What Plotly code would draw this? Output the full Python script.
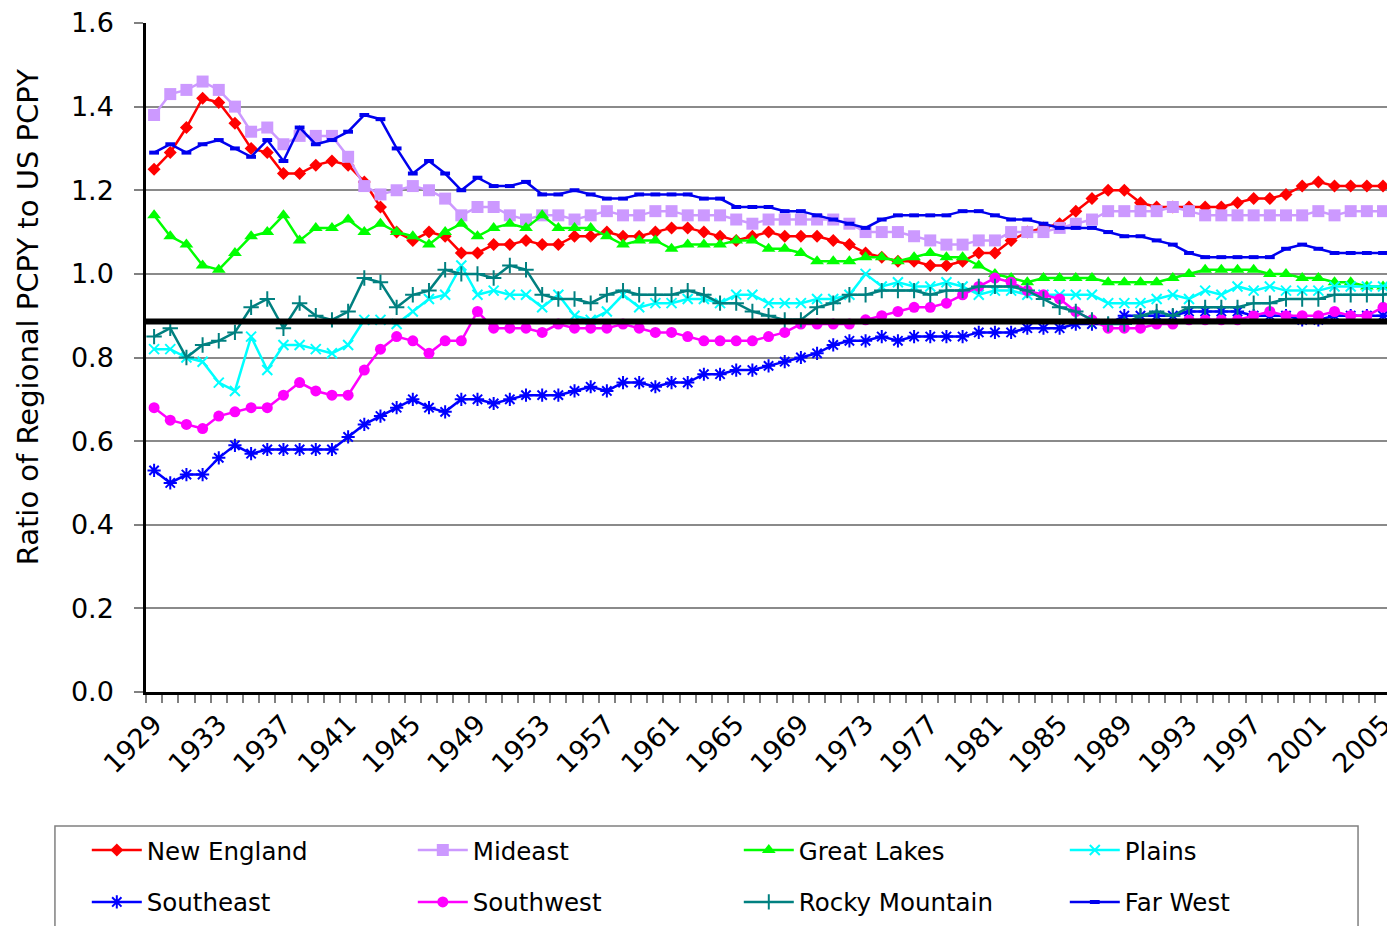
import plotly.graph_objects as go

years = list(range(1929, 2007))

new_england = [1.25, 1.29, 1.35, 1.42, 1.41, 1.36, 1.30, 1.29, 1.24, 1.24, 1.26, 1.27, 1.26, 1.22, 1.16, 1.10, 1.08, 1.10, 1.09, 1.05,
               1.05, 1.07, 1.07, 1.08, 1.07, 1.07, 1.09, 1.09, 1.10, 1.09, 1.09, 1.10, 1.11, 1.11, 1.10, 1.09, 1.08, 1.09, 1.10, 1.09,
               1.09, 1.09, 1.08, 1.07, 1.05, 1.04, 1.03, 1.03, 1.02, 1.02, 1.03, 1.05, 1.05, 1.08, 1.10, 1.11, 1.12, 1.15, 1.18, 1.20,
               1.20, 1.17, 1.16, 1.16, 1.16, 1.16, 1.16, 1.17, 1.18, 1.18, 1.19, 1.21, 1.22, 1.21, 1.21, 1.21, 1.21, 1.21]
mideast = [1.38, 1.43, 1.44, 1.46, 1.44, 1.40, 1.34, 1.35, 1.31, 1.33, 1.33, 1.33, 1.28, 1.21, 1.19, 1.20, 1.21, 1.20, 1.18, 1.14,
           1.16, 1.16, 1.14, 1.13, 1.14, 1.14, 1.13, 1.14, 1.15, 1.14, 1.14, 1.15, 1.15, 1.14, 1.14, 1.14, 1.13, 1.12, 1.13, 1.13,
           1.13, 1.13, 1.13, 1.12, 1.10, 1.10, 1.10, 1.09, 1.08, 1.07, 1.07, 1.08, 1.08, 1.10, 1.10, 1.10, 1.11, 1.12, 1.13, 1.15,
           1.15, 1.15, 1.15, 1.16, 1.15, 1.14, 1.14, 1.14, 1.14, 1.14, 1.14, 1.14, 1.15, 1.14, 1.15, 1.15, 1.15, 1.16]
great_lakes = [1.14, 1.09, 1.07, 1.02, 1.01, 1.05, 1.09, 1.10, 1.14, 1.08, 1.11, 1.11, 1.13, 1.10, 1.12, 1.10, 1.09, 1.07, 1.10, 1.12,
               1.09, 1.11, 1.12, 1.11, 1.14, 1.11, 1.11, 1.11, 1.09, 1.07, 1.08, 1.08, 1.06, 1.07, 1.07, 1.07, 1.08, 1.08, 1.06, 1.06,
               1.05, 1.03, 1.03, 1.03, 1.04, 1.04, 1.03, 1.04, 1.05, 1.04, 1.04, 1.02, 1.00, 0.99, 0.98, 0.99, 0.99, 0.99, 0.99, 0.98,
               0.98, 0.98, 0.98, 0.99, 1.00, 1.01, 1.01, 1.01, 1.01, 1.00, 1.00, 0.99, 0.99, 0.98, 0.98, 0.97, 0.97, 0.96]
plains = [0.82, 0.82, 0.80, 0.79, 0.74, 0.72, 0.85, 0.77, 0.83, 0.83, 0.82, 0.81, 0.83, 0.89, 0.89, 0.88, 0.91, 0.94, 0.95, 1.02,
          0.95, 0.96, 0.95, 0.95, 0.92, 0.95, 0.90, 0.89, 0.91, 0.95, 0.92, 0.93, 0.93, 0.94, 0.94, 0.93, 0.95, 0.95, 0.93, 0.93,
          0.93, 0.94, 0.94, 0.95, 1.00, 0.97, 0.98, 0.97, 0.97, 0.98, 0.97, 0.95, 0.96, 0.96, 0.95, 0.95, 0.95, 0.95, 0.95, 0.93,
          0.93, 0.93, 0.94, 0.95, 0.94, 0.96, 0.95, 0.97, 0.96, 0.97, 0.96, 0.96, 0.96, 0.97, 0.97, 0.97, 0.97, 0.98]
southeast = [0.53, 0.50, 0.52, 0.52, 0.56, 0.59, 0.57, 0.58, 0.58, 0.58, 0.58, 0.58, 0.61, 0.64, 0.66, 0.68, 0.70, 0.68, 0.67, 0.70,
             0.70, 0.69, 0.70, 0.71, 0.71, 0.71, 0.72, 0.73, 0.72, 0.74, 0.74, 0.73, 0.74, 0.74, 0.76, 0.76, 0.77, 0.77, 0.78, 0.79,
             0.80, 0.81, 0.83, 0.84, 0.84, 0.85, 0.84, 0.85, 0.85, 0.85, 0.85, 0.86, 0.86, 0.86, 0.87, 0.87, 0.87, 0.88, 0.88, 0.88,
             0.90, 0.90, 0.90, 0.90, 0.91, 0.91, 0.91, 0.91, 0.90, 0.90, 0.90, 0.89, 0.89, 0.90, 0.90, 0.90, 0.90, 0.90]
southwest = [0.68, 0.65, 0.64, 0.63, 0.66, 0.67, 0.68, 0.68, 0.71, 0.74, 0.72, 0.71, 0.71, 0.77, 0.82, 0.85, 0.84, 0.81, 0.84, 0.84,
             0.91, 0.87, 0.87, 0.87, 0.86, 0.88, 0.87, 0.87, 0.87, 0.88, 0.87, 0.86, 0.86, 0.85, 0.84, 0.84, 0.84, 0.84, 0.85, 0.86,
             0.88, 0.88, 0.88, 0.88, 0.89, 0.90, 0.91, 0.92, 0.92, 0.93, 0.95, 0.97, 0.99, 0.98, 0.96, 0.95, 0.94, 0.91, 0.89, 0.87,
             0.87, 0.87, 0.88, 0.88, 0.89, 0.89, 0.89, 0.89, 0.90, 0.91, 0.90, 0.90, 0.90, 0.91, 0.90, 0.90, 0.92, 0.92]
rocky_mountain = [0.85, 0.87, 0.80, 0.83, 0.84, 0.86, 0.92, 0.94, 0.87, 0.93, 0.90, 0.89, 0.91, 0.99, 0.98, 0.92, 0.95, 0.96, 1.01, 1.00,
                  1.00, 0.99, 1.02, 1.01, 0.95, 0.94, 0.94, 0.93, 0.95, 0.96, 0.95, 0.95, 0.95, 0.96, 0.95, 0.93, 0.93, 0.91, 0.90, 0.89,
                  0.89, 0.92, 0.93, 0.95, 0.95, 0.96, 0.96, 0.96, 0.95, 0.96, 0.96, 0.97, 0.97, 0.97, 0.96, 0.94, 0.92, 0.91, 0.89, 0.88,
                  0.88, 0.90, 0.91, 0.90, 0.92, 0.92, 0.92, 0.92, 0.93, 0.93, 0.94, 0.94, 0.94, 0.95, 0.95, 0.95, 0.95, 0.96]
far_west = [1.29, 1.31, 1.29, 1.31, 1.32, 1.30, 1.28, 1.32, 1.27, 1.35, 1.31, 1.32, 1.34, 1.38, 1.37, 1.30, 1.24, 1.27, 1.24, 1.20,
            1.23, 1.21, 1.21, 1.22, 1.19, 1.19, 1.20, 1.19, 1.18, 1.18, 1.19, 1.19, 1.19, 1.19, 1.18, 1.18, 1.16, 1.16, 1.16, 1.15,
            1.15, 1.14, 1.13, 1.12, 1.11, 1.13, 1.14, 1.14, 1.14, 1.14, 1.15, 1.15, 1.14, 1.13, 1.13, 1.12, 1.11, 1.11, 1.11, 1.10,
            1.09, 1.09, 1.08, 1.07, 1.05, 1.04, 1.04, 1.04, 1.04, 1.04, 1.06, 1.07, 1.06, 1.05, 1.05, 1.05, 1.05, 1.05]

# thick black reference level
ref_level = 0.886

label_years = list(range(1929, 2006, 4))
y_ticks = [0.0, 0.2, 0.4, 0.6, 0.8, 1.0, 1.2, 1.4, 1.6]

FONT = "DejaVu Sans"

# name, values, color, symbol, size, legend
series = [
    ("New England", new_england, "#FF0000", "diamond", 10, "legend"),
    ("Mideast", mideast, "#CC99FF", "square", 12, "legend"),
    ("Great Lakes", great_lakes, "#00FF00", "triangle-up", 12, "legend"),
    ("Plains", plains, "#00FFFF", "x-thin", 10, "legend"),
    ("Southeast", southeast, "#0000FF", "asterisk", 11, "legend2"),
    ("Southwest", southwest, "#FF00FF", "circle", 11, "legend2"),
    ("Rocky Mountain", rocky_mountain, "#008080", "cross-thin", 11, "legend2"),
    ("Far West", far_west, "#0000EE", "line-ew", 7, "legend2"),
]

fig = go.Figure()
for name, vals, color, symbol, size, leg in series:
    marker = dict(symbol=symbol, size=size, color=color, line=dict(color=color, width=0))
    if symbol in ("x-thin", "cross-thin", "asterisk"):
        marker["line"] = dict(color=color, width=2)
    if symbol == "line-ew":
        marker["line"] = dict(color=color, width=4)
    fig.add_trace(go.Scatter(x=years, y=vals, name=name, mode="lines+markers",
                             line=dict(color=color, width=2.5), marker=marker,
                             legend=leg))

fig.add_hline(y=ref_level, line=dict(color="black", width=6))

# legend frame
fig.add_shape(type="rect", xref="paper", yref="paper",
              x0=-0.0729, x1=0.9704, y0=-0.40, y1=-0.2003,
              line=dict(color="#808080", width=1.5), fillcolor="rgba(0,0,0,0)")

leg_common = dict(orientation="h", xanchor="left", yanchor="middle",
                  x=-0.0474, entrywidth=261, entrywidthmode="pixels", itemwidth=50,
                  bgcolor="rgba(0,0,0,0)", borderwidth=0,
                  font=dict(family=FONT, size=24.5, color="black"))

# page body adds an 8px offset, margins below compensate
fig.update_layout(
    width=1395, height=926,
    margin=dict(l=138, r=8, t=15, b=242, autoexpand=False),
    paper_bgcolor="white", plot_bgcolor="white",
    font=dict(family=FONT, color="black"),
    showlegend=True,
    legend=dict(y=-0.2362, **leg_common),
    legend2=dict(y=-0.3139, **leg_common),
    xaxis=dict(
        range=[1928.5, 2005.74], automargin=False,
        tickmode="array", tickvals=label_years, ticktext=[str(y) for y in label_years],
        tickangle=-45, ticks="outside", ticklen=0, tickcolor="rgba(0,0,0,0)",
        tickfont=dict(family=FONT, size=27, color="black"),
        ticklabelstandoff=3, ticklabeloverflow="allow",
        minor=dict(ticks="outside", ticklen=8, tick0=1928.5, dtick=1,
                   tickcolor="#808080", tickwidth=1.5, showgrid=False),
        showgrid=False, zeroline=False,
        showline=True, linecolor="black", linewidth=2.5,
    ),
    yaxis=dict(
        range=[0, 1.6], automargin=False, tickmode="array", tickvals=y_ticks,
        ticktext=[f"{v:.1f}" for v in y_ticks],
        ticks="outside", ticklen=9, tickcolor="#808080", tickwidth=1.5,
        tickfont=dict(family=FONT, size=27, color="black"),
        ticklabelstandoff=15, ticklabeloverflow="allow",
        showgrid=True, gridcolor="#8a8a8a", gridwidth=1.5,
        zeroline=False, showline=True, linecolor="black", linewidth=2.5,
    ),
    annotations=[dict(text="Ratio of Regional PCPY to US PCPY", textangle=-90,
                      xref="paper", yref="paper", x=-0.0945, y=0.56,
                      xanchor="center", yanchor="middle",
                      showarrow=False, font=dict(family=FONT, size=29, color="black"))],
)

fig.write_html("out.html")
